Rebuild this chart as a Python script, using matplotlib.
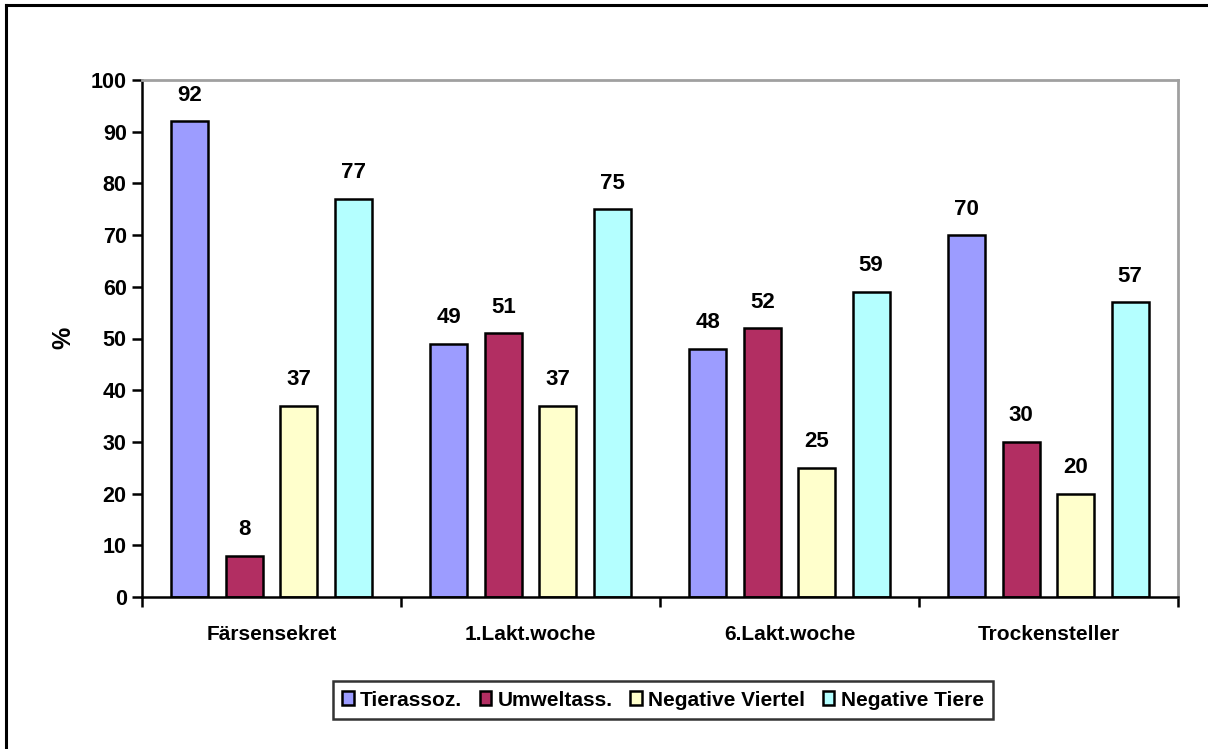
import matplotlib
matplotlib.use("Agg")
import matplotlib.pyplot as plt
from matplotlib.lines import Line2D
import numpy as np

plt.rcParams['font.family'] = ['Liberation Sans', 'DejaVu Sans']
plt.rcParams['font.weight'] = 'bold'

categories = ["Färsensekret", "1.Lakt.woche", "6.Lakt.woche", "Trockensteller"]
series_names = ["Tierassoz.", "Umweltass.", "Negative Viertel", "Negative Tiere"]
tierassoz = [92, 49, 48, 70]
umweltass = [8, 51, 52, 30]
neg_viertel = [37, 37, 25, 20]
neg_tiere = [77, 75, 59, 57]
series_values = [tierassoz, umweltass, neg_viertel, neg_tiere]
colors = ["#9C9CFF", "#B22E62", "#FFFFCC", "#B4FFFF"]
y_ticks = list(range(0, 101, 10))

W, H = 1208, 749
fig = plt.figure(figsize=(W / 100, H / 100), dpi=100)
ax = fig.add_axes([142 / W, 1 - 597 / H, 1036 / W, 517 / H])

x = np.arange(len(categories))
pitch = 0.21
width = 0.143
for i, (vals, col, name) in enumerate(zip(series_values, colors, series_names)):
    pos = x + (i - 1.5) * pitch
    bars = ax.bar(pos, vals, width=width, color=col, edgecolor="black",
                  linewidth=1.8, label=name, zorder=3)
    for b, v in zip(bars, vals):
        ax.text(b.get_x() + b.get_width() / 2, v + 3.0, str(v),
                ha="center", va="bottom", fontsize=16, fontweight="bold")

ax.set_xlim(-0.5, len(categories) - 0.5)
ax.set_ylim(0, 100)
ax.set_yticks(y_ticks)
ax.set_yticklabels([str(t) for t in y_ticks], fontsize=15.5, fontweight="bold")
ax.set_xticks(np.arange(len(categories) + 1) - 0.5)
ax.set_xticklabels([])
ax.set_xticks(x, minor=True)
ax.set_xticklabels(categories, minor=True, fontsize=15, fontweight="bold")
ax.tick_params(axis="x", which="minor", length=0, pad=20)
ax.tick_params(axis="x", which="major", direction="out", length=7, width=1.8)
ax.tick_params(axis="y", direction="out", length=7, width=1.8, pad=4)

fig.text(63 / W, 1 - 338 / H, "%", rotation=90, ha="center", va="center",
         fontsize=18, fontweight="bold")

for side in ("top", "right"):
    ax.spines[side].set_color("#A0A0A0")
    ax.spines[side].set_linewidth(2)
for side in ("left", "bottom"):
    ax.spines[side].set_color("black")
    ax.spines[side].set_linewidth(1.8)
ax.spines["bottom"].set_zorder(4)

leg = fig.legend(loc="center", bbox_to_anchor=(663 / W, 1 - 700 / H),
                 ncol=4, frameon=True, fancybox=False, edgecolor="black",
                 prop={"weight": "bold", "size": 15},
                 handlelength=0.55, handleheight=0.65, handletextpad=0.3,
                 columnspacing=0.85, borderpad=0.45, borderaxespad=0)
leg.get_frame().set_linewidth(1.8)

# chart area border
fig.add_artist(Line2D([6 / W, 6 / W], [0, 1 - 5 / H], color="black",
                      linewidth=2.2, transform=fig.transFigure))
fig.add_artist(Line2D([6 / W, 1], [1 - 5 / H, 1 - 5 / H], color="black",
                      linewidth=2.2, transform=fig.transFigure))

fig.savefig("out.png", dpi=100)
